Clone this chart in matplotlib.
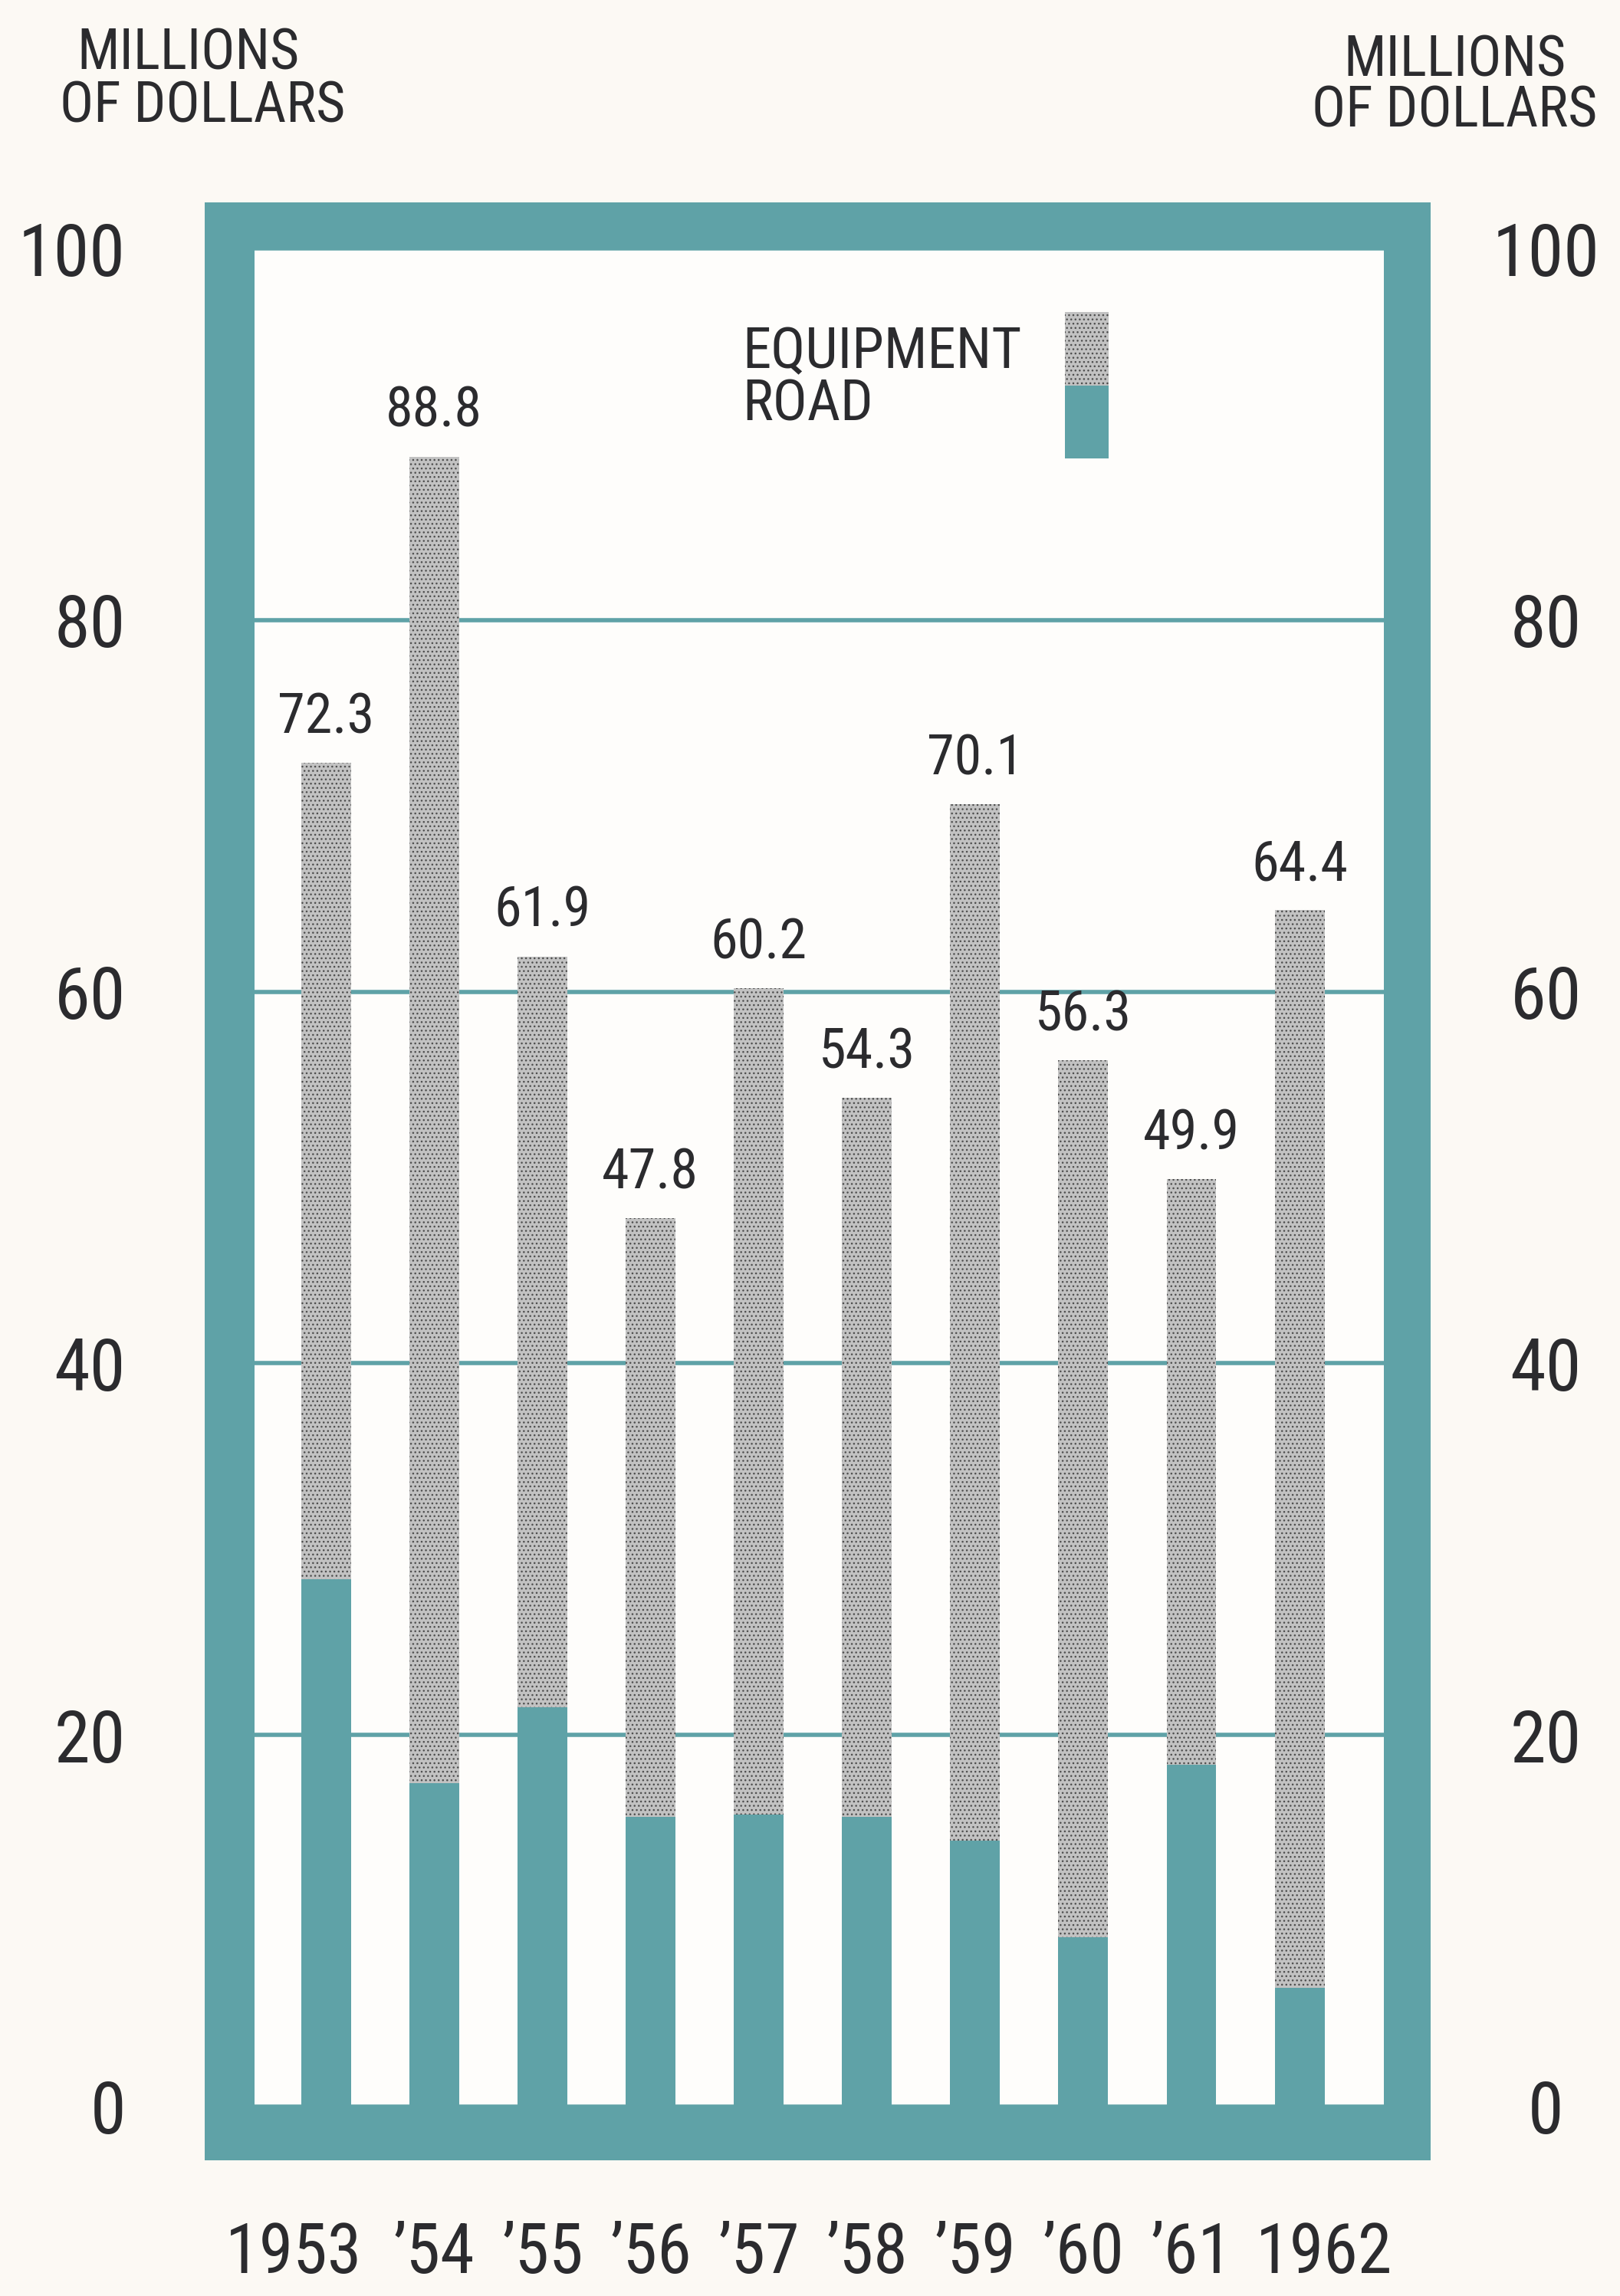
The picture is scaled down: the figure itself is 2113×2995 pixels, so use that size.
import matplotlib
matplotlib.use("Agg")
import matplotlib.pyplot as plt
import matplotlib.transforms as mtransforms

# capital outlays, millions of dollars
years = ["1953", "\u201954", "\u201955", "\u201956", "\u201957",
         "\u201958", "\u201959", "\u201960", "\u201961", "1962"]
totals = [72.3, 88.8, 61.9, 47.8, 60.2, 54.3, 70.1, 56.3, 49.9, 64.4]
road = [28.4, 17.4, 21.5, 15.6, 15.7, 15.6, 14.3, 9.1, 18.4, 6.4]
y_ticks = [0, 20, 40, 60, 80, 100]

TEAL = "#5fa2a7"
PAPER = "#fcf9f4"
INNER = "#fefdfb"
DOT_FACE = "#c2c2c2"
DOT_INK = "#4e4e4e"
INK = "#2b2b2e"

plt.rcParams["font.family"] = ["DejaVu Sans Condensed", "Roboto Condensed",
                               "Liberation Sans Narrow", "Liberation Sans",
                               "DejaVu Sans"]
plt.rcParams["hatch.linewidth"] = 1.0

fig = plt.figure(figsize=(21.13, 29.95), dpi=100, facecolor=PAPER)

# thick teal border behind the plotting area
frame = fig.add_axes([0.1264, 0.0591, 0.7567, 0.8528], zorder=0)
frame.set_facecolor(TEAL)
frame.set_xticks([])
frame.set_yticks([])
for s in frame.spines.values():
    s.set_visible(False)

ax = fig.add_axes([0.1571, 0.0825, 0.6972, 0.8093], zorder=1)
ax.set_facecolor(INNER)
x = list(range(len(years)))
equipment = [t - r for t, r in zip(totals, road)]

ax.bar(x, road, width=0.46, color=TEAL, linewidth=0, zorder=2)
ax.bar(x, equipment, width=0.46, bottom=road, color=DOT_FACE,
       edgecolor=DOT_INK, linewidth=0, hatch="...", zorder=2)

for xi, t in zip(x, totals):
    ax.annotate(f"{t:.1f}", (xi, t), xytext=(0, 17), textcoords="offset points",
                ha="center", va="bottom", fontsize=52, color=INK)

ax.set_xlim(-0.66, 9.78)
ax.set_ylim(0, 100)
ax.set_yticks(y_ticks)
ax.set_xticks(x)
ax.set_xticklabels(years)
ax.yaxis.grid(True, color=TEAL, linewidth=4)
ax.set_axisbelow(True)
for s in ax.spines.values():
    s.set_visible(False)

ax.tick_params(axis="x", length=0, pad=107, labelsize=65, colors=INK)
ax.tick_params(axis="y", length=0, pad=121, labelsize=68, colors=INK)
for lab in ax.get_yticklabels():
    lab.set_horizontalalignment("right")

# right-hand scale, centred further out
ax2 = ax.twinx()
ax2.set_ylim(ax.get_ylim())
ax2.set_yticks(y_ticks)
ax2.tick_params(axis="y", length=0, labelsize=68, colors=INK, pad=152)
for lab in ax2.get_yticklabels():
    lab.set_horizontalalignment("center")
for s in ax2.spines.values():
    s.set_visible(False)

# nudge the four-digit years so the last digits sit under their bars
xl = ax.get_xticklabels()
xl[0].set_transform(xl[0].get_transform() +
                    mtransforms.ScaledTranslation(-30 / 72, 0, fig.dpi_scale_trans))
xl[-1].set_transform(xl[-1].get_transform() +
                     mtransforms.ScaledTranslation(23 / 72, 0, fig.dpi_scale_trans))

# unit captions
fig.text(0.116, 0.9767, "MILLIONS", ha="center", va="center", fontsize=53, color=INK)
fig.text(0.125, 0.9535, "OF DOLLARS", ha="center", va="center", fontsize=53, color=INK)
fig.text(0.898, 0.9737, "MILLIONS", ha="center", va="center", fontsize=53, color=INK)
fig.text(0.898, 0.9515, "OF DOLLARS", ha="center", va="center", fontsize=53, color=INK)

# key: labels on the left, one stacked swatch on the right
fig.text(0.458, 0.8350, "EQUIPMENT\nROAD", ha="left", va="center",
         multialignment="left", linespacing=0.95, fontsize=54, color=INK)
key = fig.add_axes([0.6573, 0.8003, 0.027, 0.0638], zorder=3)
key.bar([0], [1], width=1, color=TEAL, linewidth=0)
key.bar([0], [1], width=1, bottom=[1], color=DOT_FACE, edgecolor=DOT_INK,
        linewidth=0, hatch="...")
key.set_xlim(-0.5, 0.5)
key.set_ylim(0, 2)
key.axis("off")

fig.savefig("out.png", dpi=100, facecolor=PAPER)
